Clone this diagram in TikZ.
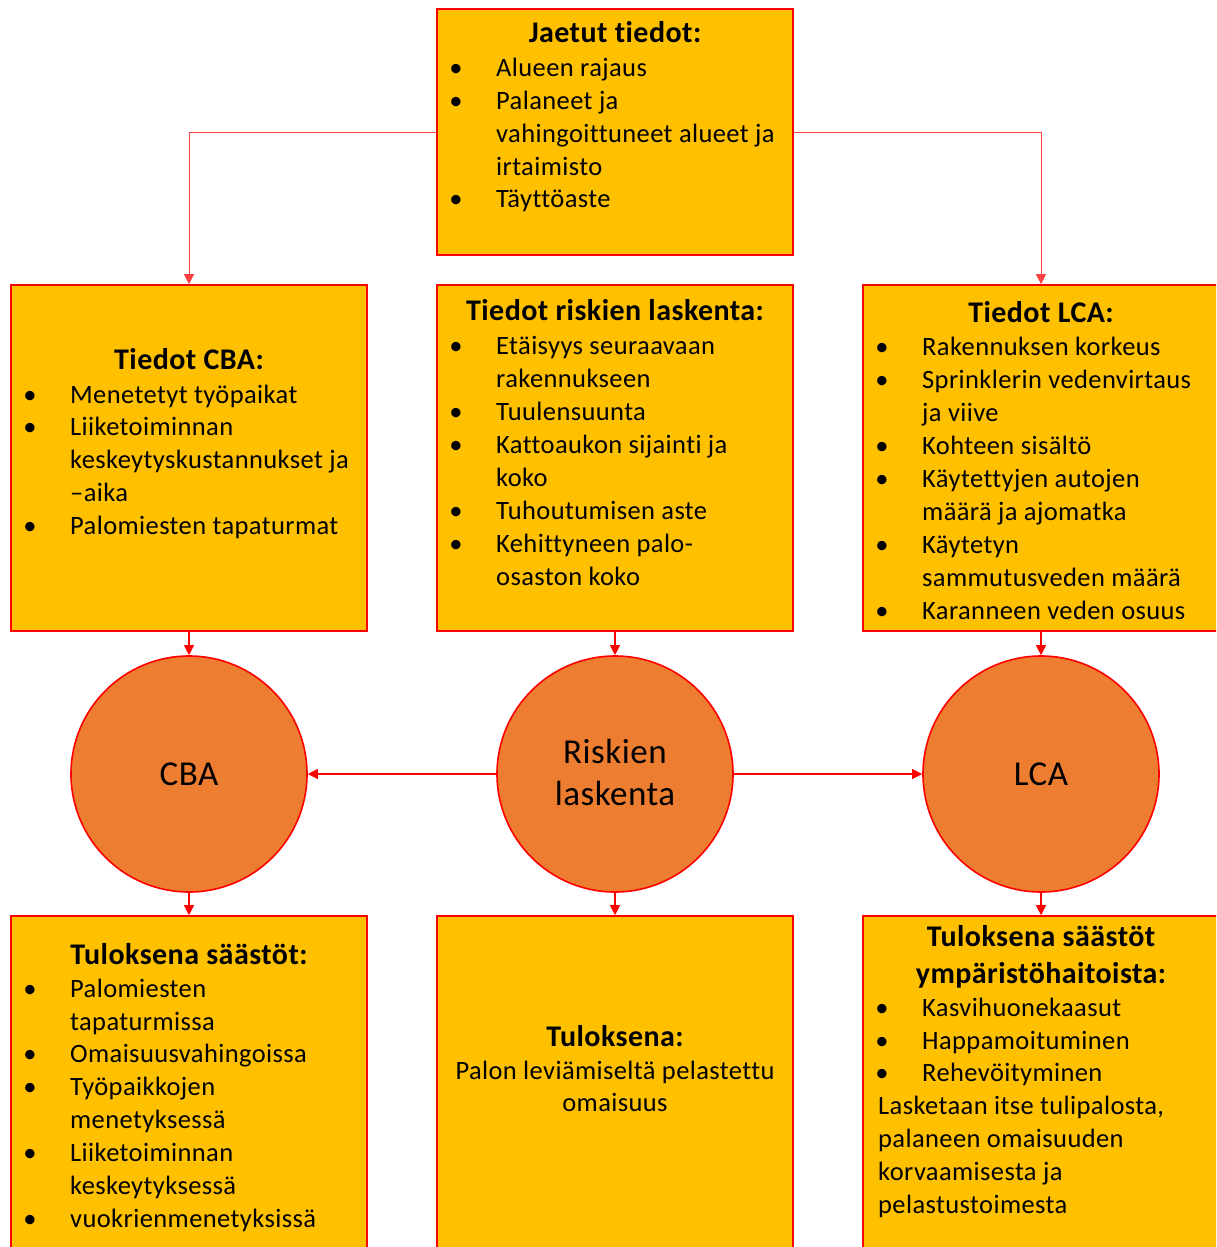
\documentclass[tikz,border=0pt]{standalone}
\usepackage{fontspec}
\setmainfont{Carlito}[Ligatures={NoCommon}, LetterSpace=1.5]
\usetikzlibrary{arrows.meta}
\definecolor{boxfill}{HTML}{FFC000}
\definecolor{circfill}{HTML}{ED7D31}
\definecolor{edge}{HTML}{FF0000}
\newcommand\bodyfont{\fontsize{26.5}{33}\selectfont}
\newcommand\ttlfont{\fontsize{30}{37}\selectfont\bfseries}
\newcommand\circfont{\fontsize{35}{42}\selectfont}
\newcommand\itm[4]{\node[bul] (#1b) at (#2-40,#3) {•}; \node[txt] (#1) at (#2,#3) {#4};}
\newcommand\cnt[4]{\node[txt] (#1) at (#2,#3) {#4};}
\newcommand\ttl[4]{\node[ttlst] (#1) at (#2,#3) {#4};}
\tikzset{
  box/.style={rectangle, draw=edge, fill=boxfill, line width=1.6pt, minimum width=356pt, inner sep=0pt},
  circ/.style={circle, draw=edge, fill=circfill, line width=1.6pt, minimum size=236pt, inner sep=0pt},
  txt/.style={anchor=base west, inner sep=0pt, font=\bodyfont},
  bul/.style={anchor=base, inner sep=0pt, font=\bodyfont},
  ttlst/.style={anchor=base, inner sep=0pt, font=\ttlfont},
  ctext/.style={anchor=base, inner sep=0pt, font=\circfont},
  ctr/.style={anchor=base, inner sep=0pt, font=\bodyfont},
  conn/.style={draw=edge, line width=1.1pt, -{Triangle[length=10pt,width=10pt]}},
  thinconn/.style={draw=edge!75, line width=0.9pt, -{Triangle[length=10pt,width=10pt]}}
}
\begin{document}
\begin{tikzpicture}[x=1pt,y=-1pt]
\clip (0,0) rectangle (1216,1247);
\fill[white] (0,0) rectangle (1216,1247);
% boxes
\node[box, minimum height=246pt] (top) at (615,132) {};
\node[box, minimum height=346pt] (cba) at (189,458) {};
\node[box, minimum height=346pt] (risk) at (615,458) {};
\node[box, minimum height=346pt] (lca) at (1041,458) {};
\node[box, minimum height=346pt] (cbaR) at (189,1089) {};
\node[box, minimum height=346pt] (riskR) at (615,1089) {};
\node[box, minimum height=346pt] (lcaR) at (1041,1089) {};
% circles
\node[circ] (cbaC) at (189,774) {};
\node[circ] (riskC) at (615,774) {};
\node[circ] (lcaC) at (1041,774) {};
\node[ctext] (cbaCt) at (189,785) {CBA};
\node[ctext] (riskCt1) at (615,763) {Riskien};
\node[ctext] (riskCt2) at (615,805) {laskenta};
\node[ctext] (lcaCt) at (1041,785) {LCA};
% connectors
\draw[thinconn] (top.west) -| (cba.north);
\draw[thinconn] (top.east) -| (lca.north);
\draw[conn] (cba.south) -- (cbaC.north);
\draw[conn] (risk.south) -- (riskC.north);
\draw[conn] (lca.south) -- (lcaC.north);
\draw[conn] (riskC.west) -- (cbaC.east);
\draw[conn] (riskC.east) -- (lcaC.west);
\draw[conn] (cbaC.south) -- (cbaR.north);
\draw[conn] (riskC.south) -- (riskR.north);
\draw[conn] (lcaC.south) -- (lcaR.north);
% top box text
\ttl{topT}{615}{43}{Jaetut tiedot:}
\itm{a1}{496}{76}{Alueen rajaus}
\itm{a2}{496}{109}{Palaneet ja}
\cnt{a3}{496}{142}{vahingoittuneet alueet ja}
\cnt{a4}{496}{175}{irtaimisto}
\itm{a5}{496}{207}{Täyttöaste}
% CBA box text
\ttl{cbaT}{189}{369}{Tiedot CBA:}
\itm{b1}{70}{403}{Menetetyt työpaikat}
\itm{b2}{70}{435}{Liiketoiminnan}
\cnt{b3}{70}{468}{keskeytyskustannukset ja}
\cnt{b4}{70}{501}{–aika}
\itm{b5}{70}{534}{Palomiesten tapaturmat}
% risk box text
\ttl{riskT}{615}{320}{Tiedot riskien laskenta:}
\itm{c1}{496}{354}{Etäisyys seuraavaan}
\cnt{c2}{496}{387}{rakennukseen}
\itm{c3}{496}{420}{Tuulensuunta}
\itm{c4}{496}{453}{Kattoaukon sijainti ja}
\cnt{c5}{496}{486}{koko}
\itm{c6}{496}{519}{Tuhoutumisen aste}
\itm{c7}{496}{552}{Kehittyneen palo-}
\cnt{c8}{496}{585}{osaston koko}
% LCA box text
\ttl{lcaT}{1041}{322}{Tiedot LCA:}
\itm{d1}{922}{355}{Rakennuksen korkeus}
\itm{d2}{922}{388}{Sprinklerin vedenvirtaus}
\cnt{d3}{922}{421}{ja viive}
\itm{d4}{922}{454}{Kohteen sisältö}
\itm{d5}{922}{487}{Käytettyjen autojen}
\cnt{d6}{922}{520}{määrä ja ajomatka}
\itm{d7}{922}{553}{Käytetyn}
\cnt{d8}{922}{586}{sammutusveden määrä}
\itm{d9}{922}{619}{Karanneen veden osuus}
% CBA result
\ttl{cbaRT}{189}{964}{Tuloksena säästöt:}
\itm{e1}{70}{997}{Palomiesten}
\cnt{e2}{70}{1030}{tapaturmissa}
\itm{e3}{70}{1062}{Omaisuusvahingoissa}
\itm{e4}{70}{1095}{Työpaikkojen}
\cnt{e5}{70}{1128}{menetyksessä}
\itm{e6}{70}{1161}{Liiketoiminnan}
\cnt{e7}{70}{1194}{keskeytyksessä}
\itm{e8}{70}{1227}{vuokrienmenetyksissä}
% risk result
\ttl{riskRT}{615}{1046}{Tuloksena:}
\node[ctr] (f1) at (615,1079) {Palon leviämiseltä pelastettu};
\node[ctr] (f2) at (615,1111) {omaisuus};
% LCA result
\ttl{lcaRT1}{1041}{946}{Tuloksena säästöt}
\ttl{lcaRT2}{1041}{983}{ympäristöhaitoista:}
\itm{g1}{922}{1016}{Kasvihuonekaasut}
\itm{g2}{922}{1049}{Happamoituminen}
\itm{g3}{922}{1081}{Rehevöityminen}
\cnt{g4}{878}{1114}{Lasketaan itse tulipalosta,}
\cnt{g5}{878}{1147}{palaneen omaisuuden}
\cnt{g6}{878}{1180}{korvaamisesta ja}
\cnt{g7}{878}{1213}{pelastustoimesta}
\end{tikzpicture}
\end{document}
